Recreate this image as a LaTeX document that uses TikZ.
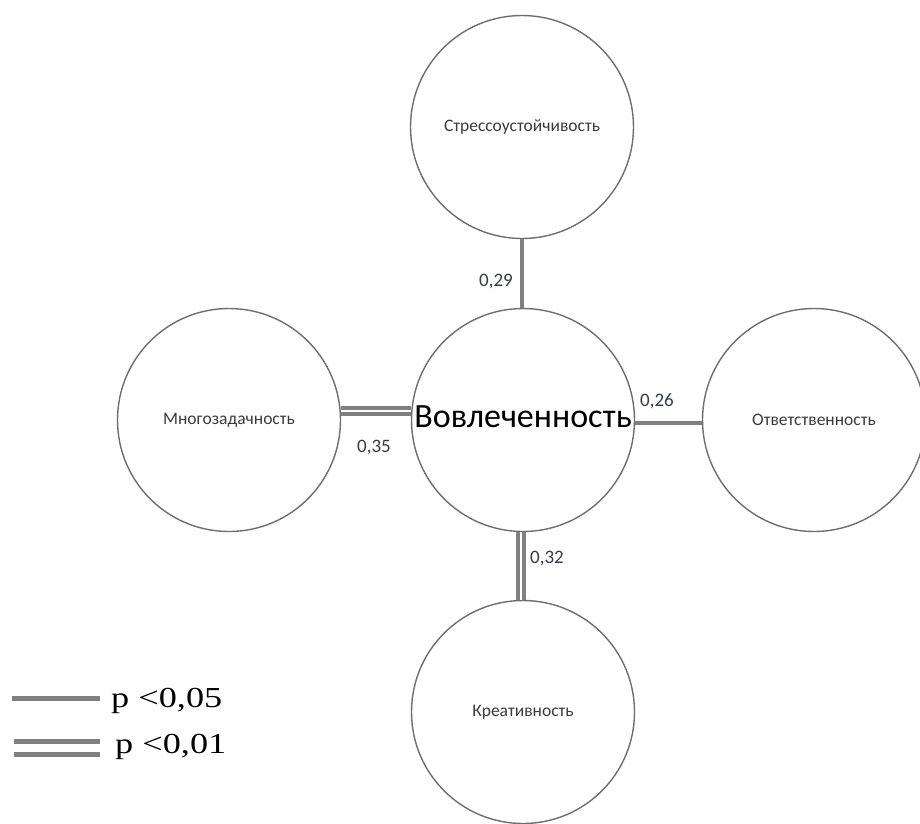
\documentclass[tikz,border=0pt]{standalone}
\usepackage{fontspec}
\setmainfont{Carlito}
\newfontfamily\legendfont[FakeStretch=1.25]{Liberation Serif}
\definecolor{edgegray}{HTML}{808080}
\definecolor{circgray}{HTML}{6E6E6E}
\definecolor{labgray}{HTML}{353B45}
\definecolor{txtgray}{HTML}{3A3A3A}
\begin{document}
\begin{tikzpicture}[x=1pt,y=-1pt,
  factor/.style={circle,draw=circgray,line width=1.4pt,minimum size=223pt,inner sep=0pt,
    font=\fontsize{17.5}{19}\selectfont,text=txtgray},
  single/.style={draw=edgegray,line width=4.5pt},
  dbl/.style={draw=edgegray,line width=4pt,double=white,double distance=2pt},
  corr/.style={font=\fontsize{19}{21}\selectfont,text=labgray,inner sep=0pt},
  legtext/.style={anchor=base west,inner sep=0pt,font=\legendfont\fontsize{29}{32}\selectfont}]
\useasboundingbox (0,0) rectangle (920,823);
\node[factor] (top) at (522,127) {Стрессоустойчивость};
\node[factor] (cen) at (523,420) {};
\node[font=\fontsize{34}{36}\selectfont,text=black,inner sep=0pt] (centxt) at (523,417) {Вовлеченность};
\node[factor] (lft) at (229,420) {Многозадачность};
\node[factor] (rgt) at (814,420) {Ответственность};
\node[factor] (bot) at (523,712) {Креативность};
% connectors
\draw[single] (top.south) -- (cen.north -| top.south);
\draw[single] ([yshift=-3pt]cen.east) -- ([yshift=-3pt]rgt.west);
\draw[dbl] ([yshift=9pt]cen.west) -- ([yshift=9pt]lft.east);
\draw[dbl] ([xshift=-2pt]cen.south) -- ([xshift=-2pt]bot.north);
% correlation labels
\node[corr] (l29) at (496,282) {0,29};
\node[corr] (l35) at (374,448) {0,35};
\node[corr] (l26) at (657,401) {0,26};
\node[corr] (l32) at (547,559) {0,32};
% legend
\coordinate (s1) at (12,698);
\coordinate (s2) at (100,698);
\draw[draw=edgegray,line width=5pt] (s1) -- (s2);
\node[legtext] (p05) at (111,707) {p <0,05};
\coordinate (d1) at (14,741.5);
\coordinate (d2) at (100,741.5);
\coordinate (d3) at (14,754);
\coordinate (d4) at (100,754);
\draw[draw=edgegray,line width=5pt] (d1) -- (d2);
\draw[draw=edgegray,line width=5pt] (d3) -- (d4);
\node[legtext] (p01) at (115,753) {p <0,01};
\end{tikzpicture}
\end{document}
